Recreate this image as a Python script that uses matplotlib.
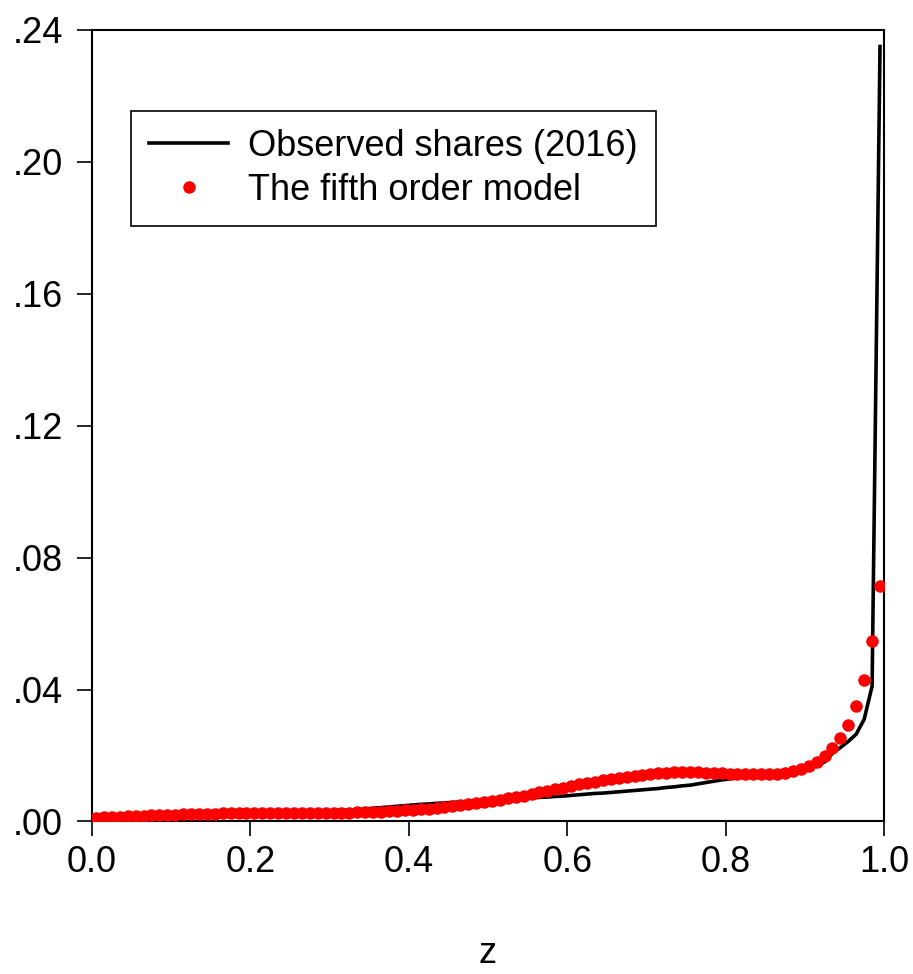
import numpy as np
import matplotlib
matplotlib.use("Agg")
import matplotlib.pyplot as plt
from matplotlib.ticker import FuncFormatter

plt.rcParams['font.family'] = ['Liberation Sans', 'DejaVu Sans']

# percentile grid (midpoints of the 100 groups)
z = np.round(np.arange(0.005, 1.0, 0.01), 3)

observed = [
    0.0010, 0.0011, 0.0012, 0.0013, 0.0014, 0.0015, 0.0016, 0.0017, 0.0018, 0.0019,
    0.0020, 0.0020, 0.0021, 0.0021, 0.0022, 0.0022, 0.0023, 0.0023, 0.0024, 0.0024,
    0.0025, 0.0025, 0.0026, 0.0026, 0.0027, 0.0027, 0.0028, 0.0029, 0.0030, 0.0031,
    0.0032, 0.0033, 0.0035, 0.0036, 0.0038, 0.0040, 0.0042, 0.0044, 0.0046, 0.0048,
    0.0050, 0.0052, 0.0053, 0.0055, 0.0056, 0.0058, 0.0059, 0.0061, 0.0062, 0.0064,
    0.0065, 0.0066, 0.0067, 0.0069, 0.0070, 0.0071, 0.0073, 0.0074, 0.0076, 0.0077,
    0.0079, 0.0081, 0.0083, 0.0085, 0.0086, 0.0088, 0.0090, 0.0092, 0.0094, 0.0096,
    0.0098, 0.0100, 0.0103, 0.0105, 0.0108, 0.0110, 0.0114, 0.0118, 0.0122, 0.0126,
    0.0129, 0.0132, 0.0135, 0.0137, 0.0139, 0.0141, 0.0144, 0.0147, 0.0151, 0.0156,
    0.0163, 0.0172, 0.0180, 0.0207, 0.0224, 0.0243, 0.0265, 0.0310, 0.0410, 0.2350,
]

model5 = [
    0.0012, 0.0013, 0.0014, 0.0015, 0.0016, 0.0017, 0.0018, 0.0019, 0.0020, 0.0021,
    0.0021, 0.0022, 0.0023, 0.0023, 0.0024, 0.0024, 0.0025, 0.0025, 0.0025, 0.0026,
    0.0026, 0.0026, 0.0026, 0.0026, 0.0026, 0.0026, 0.0026, 0.0026, 0.0026, 0.0026,
    0.0026, 0.0027, 0.0027, 0.0028, 0.0028, 0.0029, 0.0030, 0.0031, 0.0032, 0.0034,
    0.0035, 0.0037, 0.0039, 0.0041, 0.0043, 0.0046, 0.0049, 0.0052, 0.0055, 0.0058,
    0.0062, 0.0066, 0.0070, 0.0074, 0.0078, 0.0083, 0.0088, 0.0093, 0.0098, 0.0103,
    0.0108, 0.0113, 0.0117, 0.0121, 0.0125, 0.0129, 0.0133, 0.0136, 0.0139, 0.0142,
    0.0144, 0.0146, 0.0148, 0.0149, 0.0149, 0.0149, 0.0149, 0.0148, 0.0147, 0.0146,
    0.0145, 0.0144, 0.0143, 0.0143, 0.0143, 0.0143, 0.0145, 0.0148, 0.0152, 0.0158,
    0.0167, 0.0180, 0.0198, 0.0222, 0.0253, 0.0293, 0.0350, 0.0430, 0.0548, 0.0715,
]

fig = plt.figure(figsize=(9.13, 9.74), dpi=100)
ax = fig.add_axes([0.1008, 0.1566, 0.8674, 0.8126])

ax.plot(z, observed, color='black', lw=2.6, label='Observed shares (2016)', zorder=2)
ax.plot(z, model5, 'o', color='#ff0000', ms=9, mew=0, label='The fifth order model', zorder=3)

ax.set_xlim(0, 1.0)
ax.set_ylim(0, 0.24)
ax.set_xticks([0.0, 0.2, 0.4, 0.6, 0.8, 1.0])
ax.set_yticks([0.0, 0.04, 0.08, 0.12, 0.16, 0.20, 0.24])
ax.yaxis.set_major_formatter(FuncFormatter(lambda v, p: f"{v:.2f}".lstrip('0')))
ax.xaxis.set_major_formatter(FuncFormatter(lambda v, p: f"{v:.1f}"))
ax.tick_params(axis='both', direction='out', length=11, width=1.2, labelsize=26, color='black')
ax.tick_params(axis='x', pad=6)
ax.tick_params(axis='y', pad=10)
for s in ax.spines.values():
    s.set_linewidth(1.5)

ax.set_xlabel('z', fontsize=26, labelpad=40)

leg = ax.legend(loc='upper left', bbox_to_anchor=(0.049, 0.898), borderaxespad=0,
                fontsize=26, frameon=True, fancybox=False, handlelength=2.2,
                handletextpad=0.55, labelspacing=0.25, borderpad=0.5, numpoints=1)
leg.get_frame().set_edgecolor('black')
leg.get_frame().set_linewidth(1.2)
leg.get_frame().set_alpha(1)

fig.savefig('out.png', dpi=100)
